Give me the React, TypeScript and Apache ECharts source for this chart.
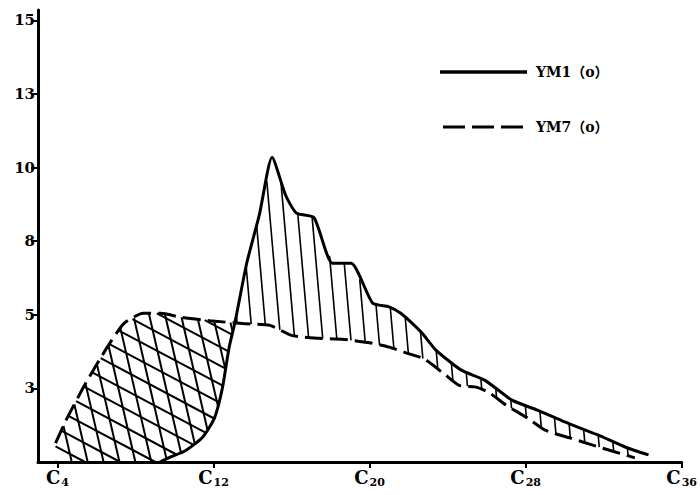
import React, { useEffect, useRef } from "react";
import * as echarts from "echarts";

// YM1(o) — solid curve (x = carbon number, y = value)
const ym1X = [9.25, 9.8, 10.6, 11.45, 12.05, 12.45, 12.8, 13.1, 13.7, 14.35, 15.0, 15.7, 16.25, 17.15, 18.1, 19.05, 20.15, 21.0, 21.6, 22.2, 22.7, 23.4, 24.7, 25.9, 27.3, 28.6, 30.0, 31.7, 33.1, 34.3];
const ym1Y = [0.0, 0.17, 0.4, 0.85, 1.5, 2.5, 3.9, 4.75, 6.75, 8.4, 10.35, 9.05, 8.45, 8.3, 6.75, 6.75, 5.4, 5.27, 5.05, 4.7, 4.37, 3.8, 3.12, 2.78, 2.1, 1.76, 1.36, 0.92, 0.51, 0.24];

// YM7(o) — dashed curve
const ym7X = [3.9, 4.5, 5.45, 6.55, 7.4, 8.4, 9.3, 10.3, 11.8, 13.5, 14.9, 16.0, 17.4, 18.6, 20.0, 21.0, 21.9, 22.8, 23.9, 24.6, 25.4, 26.1, 27.0, 28.1, 29.0, 30.3, 31.4, 32.6, 33.6];
const ym7Y = [0.64, 1.5, 2.68, 3.9, 4.7, 5.05, 5.05, 4.92, 4.8, 4.7, 4.64, 4.3, 4.2, 4.17, 4.05, 3.9, 3.7, 3.5, 2.95, 2.6, 2.55, 2.37, 1.93, 1.49, 1.08, 0.81, 0.58, 0.34, 0.14];

const seriesNames = ["YM1（o）", "YM7（o）"];

const xTickValues = [4, 12, 20, 28, 36];
const xTickSubscripts = ["4", "12", "20", "28", "36"];
const yTickValues = [2.5, 5, 7.5, 10, 12.5, 15];
const yTickLabels = ["3", "5", "8", "10", "13", "15"];

const FONT = "DejaVu Serif";
const DASH = [18, 7];

function interp(xs: number[], ys: number[], x: number): number {
  if (x <= xs[0]) return ys[0];
  const n = xs.length;
  if (x >= xs[n - 1]) return ys[n - 1];
  for (let i = 0; i < n - 1; i++) {
    if (x >= xs[i] && x <= xs[i + 1]) {
      const t = (x - xs[i]) / (xs[i + 1] - xs[i]);
      return ys[i] + t * (ys[i + 1] - ys[i]);
    }
  }
  return ys[n - 1];
}

const solidAt = (x: number) => (x < ym1X[0] ? 0 : interp(ym1X, ym1Y, x));
const dashAt = (x: number) => interp(ym7X, ym7Y, x);

function buildRegions() {
  const step = 0.02;
  let lo = ym1X[0];
  let hi = 20;
  for (let x = ym1X[0]; x < 20; x += step) {
    if (solidAt(x) >= dashAt(x)) {
      hi = x;
      lo = x - step;
      break;
    }
  }
  for (let k = 0; k < 30; k++) {
    const m = (lo + hi) / 2;
    if (solidAt(m) >= dashAt(m)) hi = m;
    else lo = m;
  }
  const xc = (lo + hi) / 2;

  const left: number[][] = [];
  const xs0 = ym7X[0];
  for (let x = xs0; x < xc; x += step) left.push([x, dashAt(x)]);
  left.push([xc, dashAt(xc)]);
  for (let x = xc; x > xs0; x -= step) left.push([x, Math.max(0, solidAt(x))]);
  left.push([xs0, 0]);

  const right: number[][] = [];
  const xe = Math.min(ym1X[ym1X.length - 1], ym7X[ym7X.length - 1]);
  for (let x = xc; x < xe; x += step) right.push([x, solidAt(x)]);
  right.push([xe, solidAt(xe)]);
  for (let x = xe; x > xc; x -= step) right.push([x, dashAt(x)]);
  right.push([xc, dashAt(xc)]);
  return { left, right };
}

function hatch(poly: number[][], angleDeg: number, spacing: number, phase: number) {
  const th = (angleDeg * Math.PI) / 180;
  const d = [Math.cos(th), Math.sin(th)];
  const n = [-d[1], d[0]];
  let mn = Infinity;
  let mx = -Infinity;
  for (const p of poly) {
    const c = p[0] * n[0] + p[1] * n[1];
    if (c < mn) mn = c;
    if (c > mx) mx = c;
  }
  const segs: number[][] = [];
  for (let k = Math.ceil((mn - phase) / spacing); k * spacing + phase <= mx; k++) {
    const c = k * spacing + phase;
    const us: number[] = [];
    for (let i = 0; i < poly.length; i++) {
      const a = poly[i];
      const b = poly[(i + 1) % poly.length];
      const sa = a[0] * n[0] + a[1] * n[1] - c;
      const sb = b[0] * n[0] + b[1] * n[1] - c;
      if (sa < 0 !== sb < 0) {
        const t = sa / (sa - sb);
        const px = a[0] + t * (b[0] - a[0]);
        const py = a[1] + t * (b[1] - a[1]);
        us.push(px * d[0] + py * d[1]);
      }
    }
    us.sort((p, q) => p - q);
    for (let j = 0; j + 1 < us.length; j += 2) {
      segs.push([
        c * n[0] + us[j] * d[0],
        c * n[1] + us[j] * d[1],
        c * n[0] + us[j + 1] * d[0],
        c * n[1] + us[j + 1] * d[1],
      ]);
    }
  }
  return segs;
}

export default function App() {
  const ref = useRef<HTMLDivElement>(null);
  useEffect(() => {
    if (!ref.current) return;
    const chart = echarts.init(ref.current, undefined, { renderer: "svg" });
    const regions = buildRegions();

    const legendText = {
      fontFamily: "DejaVu Serif, Noto Sans CJK SC",
      fontSize: 14,
      fontWeight: "bold",
      fill: "#000",
    };

    const option: any = {
      animation: false,
      backgroundColor: "#ffffff",
      grid: { left: 38, right: 15, top: 10, bottom: 33 },
      graphic: [
        { type: "line", shape: { x1: 440, y1: 72, x2: 527, y2: 72 }, style: { stroke: "#000", lineWidth: 3.5 } },
        { type: "text", x: 536, y: 72, style: { ...legendText, text: seriesNames[0], verticalAlign: "middle" } },
        {
          type: "line",
          shape: { x1: 443, y1: 127, x2: 527, y2: 127 },
          style: { stroke: "#000", lineWidth: 3, lineDash: [22, 7] },
        },
        { type: "text", x: 536, y: 127, style: { ...legendText, text: seriesNames[1], verticalAlign: "middle" } },
      ],
      xAxis: {
        type: "value",
        min: 3,
        max: 36,
        axisLine: { show: true, onZero: false, lineStyle: { color: "#000", width: 3 } },
        axisTick: { show: true, customValues: xTickValues, length: 6, lineStyle: { color: "#000", width: 2 } },
        axisLabel: {
          customValues: xTickValues,
          margin: 5,
          formatter: (v: number) => {
            const i = xTickValues.indexOf(v);
            return `{c|C}{s|${i >= 0 ? xTickSubscripts[i] : ""}}`;
          },
          rich: {
            c: { fontFamily: FONT, fontSize: 18, fontWeight: "bold", color: "#000" },
            s: { fontFamily: FONT, fontSize: 11, fontWeight: "bold", color: "#000", padding: [10, 0, 0, 1] },
          },
        },
        splitLine: { show: false },
      },
      yAxis: {
        type: "value",
        min: 0,
        max: 15.35,
        axisLine: { show: true, lineStyle: { color: "#000", width: 3 } },
        axisTick: { show: true, customValues: yTickValues, length: 7, lineStyle: { color: "#000", width: 2 } },
        axisLabel: {
          customValues: yTickValues,
          margin: 3,
          fontFamily: FONT,
          fontSize: 15,
          fontWeight: "bold",
          color: "#000",
          formatter: (v: number) => {
            const i = yTickValues.indexOf(v);
            return i >= 0 ? yTickLabels[i] : "";
          },
        },
        splitLine: { show: false },
      },
      series: [
        {
          type: "custom",
          name: "hatch",
          silent: true,
          z: 1,
          data: [[0, 0]],
          renderItem: (params: any, api: any) => {
            const toPx = (p: number[]) => api.coord(p);
            const lp = regions.left.map(toPx);
            const rp = regions.right.map(toPx);
            const children: any[] = [];
            const add = (segs: number[][], w: number) => {
              for (const s of segs) {
                children.push({
                  type: "line",
                  shape: { x1: s[0], y1: s[1], x2: s[2], y2: s[3] },
                  style: { stroke: "#000", lineWidth: w },
                });
              }
            };
            add(hatch(lp, 77, 15.5, 3), 2);
            add(hatch(lp, 28, 16.5, 5), 2);
            add(hatch(rp, 85, 14, 2), 1.6);
            return { type: "group", children };
          },
        },
        {
          type: "line",
          name: seriesNames[0],
          z: 3,
          symbol: "none",
          showSymbol: false,
          smooth: 0.2,
          data: ym1X.map((x, i) => [x, ym1Y[i]]),
          lineStyle: { color: "#000", width: 3, type: "solid" },
        },
        {
          type: "line",
          name: seriesNames[1],
          z: 3,
          symbol: "none",
          showSymbol: false,
          smooth: 0.2,
          data: ym7X.map((x, i) => [x, ym7Y[i]]),
          lineStyle: { color: "#000", width: 3, type: DASH },
        },
      ],
    };
    chart.setOption(option);
    return () => chart.dispose();
  }, []);
  return (
    <div
      ref={ref}
      style={{ position: "fixed", left: 0, top: 0, width: 700, height: 495, background: "#fff" }}
    />
  );
}
